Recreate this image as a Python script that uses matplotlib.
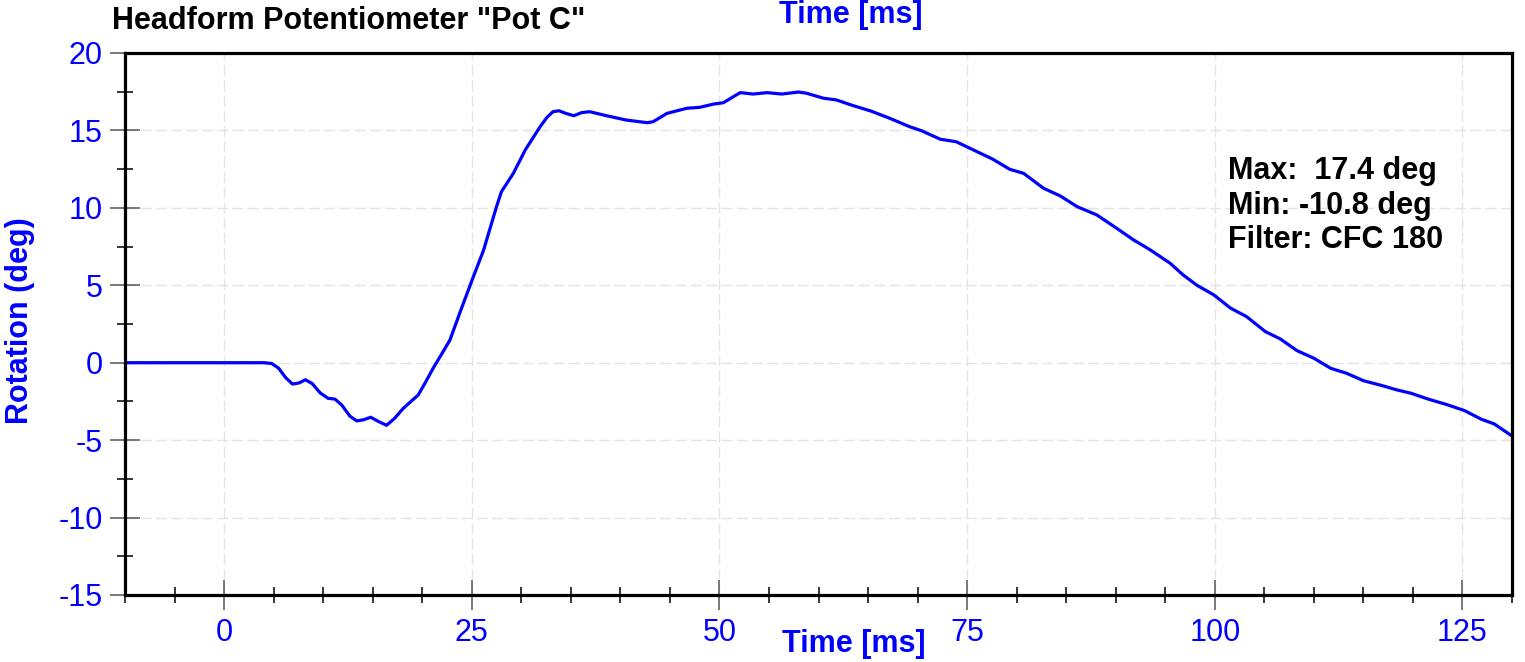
import matplotlib
matplotlib.use('Agg')
import matplotlib.pyplot as plt
from matplotlib.ticker import MultipleLocator

plt.rcParams['font.family'] = ['Liberation Sans', 'DejaVu Sans']
plt.rcParams['axes.unicode_minus'] = False

# time [ms] and rotation [deg]
time_ms = [-10, 0, 4.0, 4.8, 5.5, 6.2, 6.9, 7.6, 8.2, 8.9, 9.7, 10.5, 11.2, 11.9,
           12.7, 13.4, 14.1, 14.8, 15.6, 16.4, 17.2, 18.1, 19.6, 20.3, 21.1, 22.0,
           22.8, 23.9, 25.1, 26.2, 27.5, 28.0, 29.2, 30.4, 31.9, 32.6, 33.2, 33.8,
           34.5, 35.3, 36.1, 36.9, 38.6, 40.6, 42.7, 43.3, 44.7, 46.7, 48.0, 49.4,
           50.4, 51.2, 52.1, 53.4, 54.8, 56.3, 58.0, 58.8, 60.5, 61.8, 63.5, 65.3,
           67.2, 69.2, 70.4, 72.3, 73.9, 76.0, 77.6, 79.3, 80.7, 82.7, 84.4, 86.1,
           88.1, 90.1, 91.8, 93.5, 95.5, 96.8, 98.2, 99.9, 101.6, 103.2, 105.1,
           106.6, 108.3, 110.0, 111.7, 113.3, 115.0, 116.9, 118.4, 119.8, 121.5,
           123.5, 125.2, 126.9, 128.2, 130.0]
rotation = [0, 0, 0, -0.05, -0.35, -0.95, -1.38, -1.3, -1.1, -1.35, -1.95, -2.3,
            -2.35, -2.75, -3.45, -3.76, -3.68, -3.52, -3.8, -4.04, -3.6, -2.94,
            -2.08, -1.3, -0.36, 0.6, 1.47, 3.4, 5.45, 7.28, 10.08, 11.05, 12.23,
            13.74, 15.24, 15.85, 16.21, 16.27, 16.1, 15.95, 16.15, 16.21, 15.95,
            15.67, 15.5, 15.56, 16.1, 16.43, 16.49, 16.7, 16.79, 17.1, 17.44,
            17.35, 17.44, 17.35, 17.48, 17.4, 17.08, 16.97, 16.6, 16.25, 15.78,
            15.24, 14.98, 14.43, 14.27, 13.63, 13.14, 12.49, 12.23, 11.27, 10.77,
            10.08, 9.54, 8.68, 7.93, 7.28, 6.42, 5.67, 5.0, 4.38, 3.52, 2.98, 2.01,
            1.54, 0.78, 0.29, -0.36, -0.68, -1.16, -1.48, -1.76, -1.97, -2.34,
            -2.72, -3.09, -3.65, -3.95, -4.73]

stats_lines = ['Max:  17.4 deg', 'Min: -10.8 deg', 'Filter: CFC 180']

fs = 22
blue = '#0000ff'

fig = plt.figure(figsize=(15.25, 6.62), dpi=100)
ax = fig.add_axes([125 / 1525, 1 - 595 / 662, 1387 / 1525, 542 / 662])

ax.plot(time_ms, rotation, color=blue, lw=2.3, solid_joinstyle='round',
        solid_capstyle='round', zorder=3)

ax.set_xlim(-10, 130)
ax.set_ylim(-15, 20)
ax.xaxis.set_major_locator(MultipleLocator(25))
ax.xaxis.set_minor_locator(MultipleLocator(5))
ax.yaxis.set_major_locator(MultipleLocator(5))
ax.yaxis.set_minor_locator(MultipleLocator(2.5))

ax.grid(True, which='major', color='#e4e4e4', lw=1.0, ls=(0, (8, 3)), zorder=0)

ax.tick_params(axis='x', which='major', direction='inout', length=21, width=1.1,
               color='#555555', labelsize=fs, labelcolor=blue, pad=6)
ax.tick_params(axis='x', which='minor', direction='inout', length=11, width=1.1,
               color='black')
ax.tick_params(axis='y', which='major', direction='inout', length=22, width=1.1,
               color='#555555', labelsize=fs, labelcolor=blue, pad=5)
ax.tick_params(axis='y', which='minor', direction='inout', length=12, width=1.1,
               color='black')

for sp in ax.spines.values():
    sp.set_linewidth(2.3)
    sp.set_color('black')
    sp.set_zorder(4)

fig.text(112 / 1525, 1 - 29 / 662, 'Headform Potentiometer "Pot C"', fontsize=fs,
         fontweight='bold', color='black', ha='left', va='baseline')
# second axis title at the top, sits right at the upper edge in the reference
fig.text(851 / 1525, 1 - 23 / 662, 'Time [ms]', fontsize=fs, fontweight='bold',
         color=blue, ha='center', va='baseline')
fig.text(854 / 1525, 1 - 652 / 662, 'Time [ms]', fontsize=fs, fontweight='bold',
         color=blue, ha='center', va='baseline')
fig.text(20 / 1525, 1 - 321 / 662, 'Rotation (deg)', fontsize=fs, fontweight='bold',
         color=blue, ha='center', va='center', rotation=90)

for i, line in enumerate(stats_lines):
    fig.text(1228 / 1525, 1 - (179 + 34.5 * i) / 662, line, fontsize=fs,
             fontweight='bold', color='black', ha='left', va='baseline')

fig.savefig('out.png', dpi=100)
